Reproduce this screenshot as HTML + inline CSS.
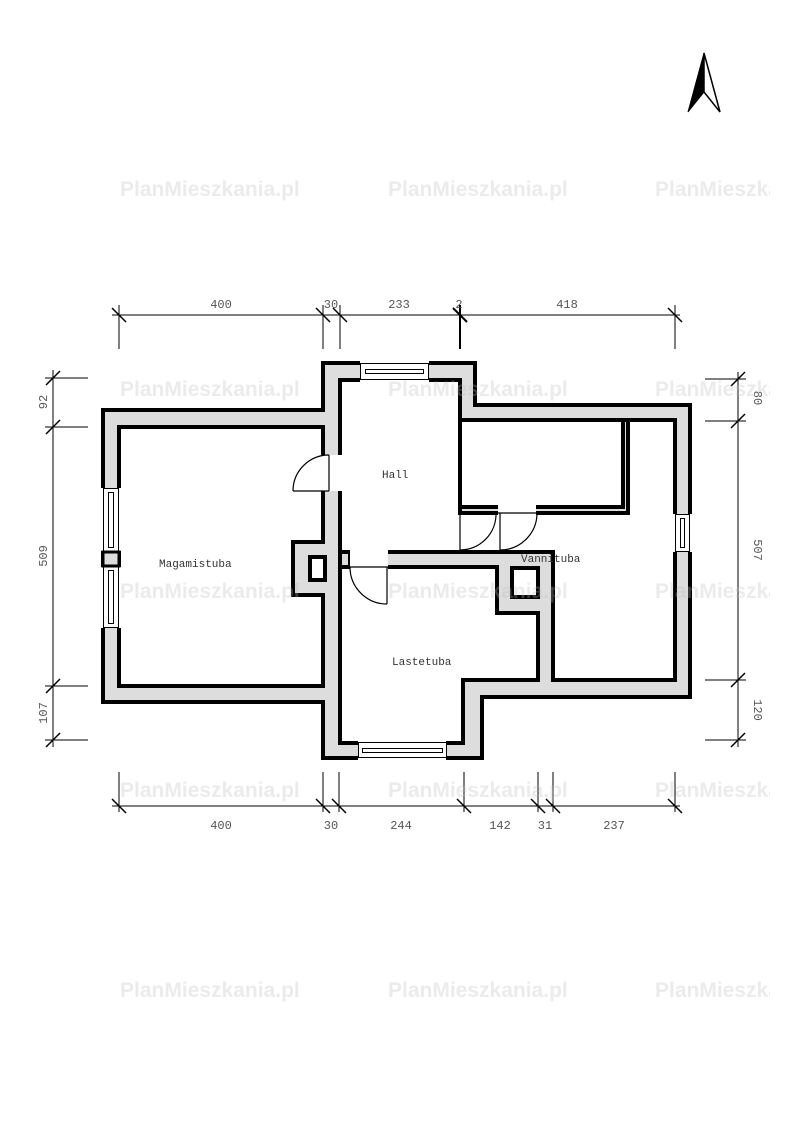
<!DOCTYPE html>
<html><head><meta charset="utf-8"><style>
body{margin:0;background:#fff}
svg{display:block}
.wm{font-family:"Liberation Sans",sans-serif;font-weight:bold;font-size:21px;fill:rgba(190,190,190,0.3)}
.dm{font-family:"Liberation Mono",monospace;font-size:12px;fill:#555}
.rm{font-family:"Liberation Mono",monospace;font-size:11px;fill:#333}
</style></head><body>
<svg width="794" height="1123" viewBox="0 0 794 1123" xmlns="http://www.w3.org/2000/svg">
<defs><clipPath id="c"><rect x="0" y="0" width="770" height="1123"/></clipPath></defs>
<!-- north arrow -->
<polygon points="704,53 688,112 704,92" fill="#000" stroke="#000" stroke-width="1"/>
<polygon points="704,53 720,112 704,92" fill="#fff" stroke="#000" stroke-width="1.5"/>
<!-- walls -->
<g stroke="#000" stroke-width="4" stroke-linejoin="miter">
<polygon fill="#ddd" points="103,410 323,410 323,363 475,363 475,405 690,405 690,697 482,697 482,758 323,758 323,702 103,702"/>
<polygon fill="#fff" points="119,427 323,427 323,542 293,542 293,595 323,595 323,686 119,686"/>
<polygon fill="#fff" points="340,380 460,380 460,420 675,420 675,680 553,680 553,552 340,552"/>
<polygon fill="#fff" points="340,567 497,567 497,613 538,613 538,680 463,680 463,743 340,743"/>
<rect x="460" y="420" width="168" height="93" fill="#ddd"/>
<rect x="460" y="420" width="163" height="87" fill="#fff"/>
<rect x="310" y="557" width="15" height="23" fill="#fff"/>
<rect x="512" y="568" width="26" height="29" fill="#fff"/>
<rect x="340" y="552" width="10" height="15" fill="#ddd"/>
</g>
<g fill="#fff" stroke="none">
<rect x="320" y="455" width="23" height="36"/>
<rect x="350" y="549" width="38" height="21"/>
<rect x="498" y="503" width="38" height="13"/>
<rect x="458" y="515" width="4" height="35"/>
<rect x="360" y="360" width="69" height="23"/>
<rect x="100" y="488" width="23" height="63"/>
<rect x="100" y="567" width="23" height="61"/>
<rect x="672" y="514" width="21" height="38"/>
<rect x="358" y="740" width="88" height="21"/>
</g>
<rect x="103" y="552" width="16" height="14" fill="#ddd" stroke="#000" stroke-width="3"/>
<g fill="none" stroke="#000" stroke-width="1">
<rect x="360.5" y="363.5" width="68" height="16"/><rect x="365.5" y="369.5" width="58" height="4"/>
<rect x="103.5" y="488.5" width="15" height="63"/><rect x="108.5" y="492.5" width="5" height="55"/>
<rect x="103.5" y="566.5" width="15" height="61"/><rect x="108.5" y="570.5" width="5" height="53"/>
<rect x="675.5" y="514.5" width="14" height="37"/><rect x="680.5" y="518.5" width="4" height="29"/>
<rect x="358.5" y="742.5" width="88" height="15"/><rect x="362.5" y="748.5" width="80" height="4"/>
</g>
<g fill="none" stroke="#000" stroke-width="1.2">
<line x1="329" y1="455" x2="329" y2="491"/><path d="M329,455 A36,36 0 0 0 293,491"/><line x1="293" y1="491" x2="329" y2="491"/>
<line x1="387" y1="567" x2="387" y2="604"/><path d="M350,567 A37,37 0 0 0 387,604"/><line x1="350" y1="567" x2="388" y2="567"/>
<line x1="460" y1="513" x2="460" y2="550"/><path d="M496,513 A36,36 0 0 1 460,550"/>
<line x1="500" y1="513" x2="500" y2="550"/><path d="M537,513 A37,37 0 0 1 500,550"/><line x1="498" y1="513" x2="537" y2="513"/>
</g>
<text class="rm" x="159" y="567">Magamistuba</text>
<text class="rm" x="382" y="478">Hall</text>
<text class="rm" x="521" y="562">Vannituba</text>
<text class="rm" x="392" y="665">Lastetuba</text>
<g stroke="#000" stroke-width="1" fill="none">
<line x1="112" y1="315" x2="680" y2="315"/>
<line x1="119" y1="305" x2="119" y2="349"/><line x1="323" y1="305" x2="323" y2="349"/><line x1="340" y1="305" x2="340" y2="349"/><line x1="460" y1="305" x2="460" y2="349" stroke-width="2"/><line x1="675" y1="305" x2="675" y2="349"/>
<line x1="112" y1="308" x2="126" y2="322" stroke-width="1.5"/><line x1="316" y1="308" x2="330" y2="322" stroke-width="1.5"/><line x1="333" y1="308" x2="347" y2="322" stroke-width="1.5"/><line x1="453" y1="308" x2="467" y2="322" stroke-width="2"/><line x1="668" y1="308" x2="682" y2="322" stroke-width="1.5"/>
<line x1="112" y1="806" x2="680" y2="806"/>
<line x1="119" y1="772" x2="119" y2="812"/><line x1="323" y1="772" x2="323" y2="812"/><line x1="339" y1="772" x2="339" y2="812"/><line x1="464" y1="772" x2="464" y2="812"/><line x1="538" y1="772" x2="538" y2="812"/><line x1="553" y1="772" x2="553" y2="812"/><line x1="675" y1="772" x2="675" y2="812"/>
<line x1="112" y1="799" x2="126" y2="813" stroke-width="1.5"/><line x1="316" y1="799" x2="330" y2="813" stroke-width="1.5"/><line x1="332" y1="799" x2="346" y2="813" stroke-width="1.5"/><line x1="457" y1="799" x2="471" y2="813" stroke-width="1.5"/><line x1="531" y1="799" x2="545" y2="813" stroke-width="1.5"/><line x1="546" y1="799" x2="560" y2="813" stroke-width="1.5"/><line x1="668" y1="799" x2="682" y2="813" stroke-width="1.5"/>
<line x1="53" y1="370" x2="53" y2="747"/>
<line x1="45" y1="378" x2="88" y2="378"/><line x1="45" y1="427" x2="88" y2="427"/><line x1="45" y1="686" x2="88" y2="686"/><line x1="45" y1="740" x2="88" y2="740"/>
<line x1="46" y1="385" x2="60" y2="371" stroke-width="1.5"/><line x1="46" y1="434" x2="60" y2="420" stroke-width="1.5"/><line x1="46" y1="693" x2="60" y2="679" stroke-width="1.5"/><line x1="46" y1="747" x2="60" y2="733" stroke-width="1.5"/>
<line x1="738" y1="372" x2="738" y2="747"/>
<line x1="705" y1="379" x2="746" y2="379"/><line x1="705" y1="421" x2="746" y2="421"/><line x1="705" y1="680" x2="746" y2="680"/><line x1="705" y1="740" x2="746" y2="740"/>
<line x1="731" y1="386" x2="745" y2="372" stroke-width="1.5"/><line x1="731" y1="428" x2="745" y2="414" stroke-width="1.5"/><line x1="731" y1="687" x2="745" y2="673" stroke-width="1.5"/><line x1="731" y1="747" x2="745" y2="733" stroke-width="1.5"/>
</g>
<g class="dm" text-anchor="middle">
<text x="221" y="308">400</text><text x="331" y="308">30</text><text x="399" y="308">233</text><text x="459" y="308">2</text><text x="567" y="308">418</text>
<text x="221" y="829">400</text><text x="331" y="829">30</text><text x="401" y="829">244</text><text x="500" y="829">142</text><text x="545" y="829">31</text><text x="614" y="829">237</text>
<text transform="translate(47,402) rotate(-90)">92</text>
<text transform="translate(47,556) rotate(-90)">509</text>
<text transform="translate(47,713) rotate(-90)">107</text>
<text transform="translate(754,398) rotate(90)">80</text>
<text transform="translate(754,550) rotate(90)">507</text>
<text transform="translate(754,710) rotate(90)">120</text>
</g>
<g class="wm" clip-path="url(#c)">
<text x="120" y="196">PlanMieszkania.pl</text><text x="388" y="196">PlanMieszkania.pl</text><text x="655" y="196">PlanMieszkania.pl</text>
<text x="120" y="396">PlanMieszkania.pl</text><text x="388" y="396">PlanMieszkania.pl</text><text x="655" y="396">PlanMieszkania.pl</text>
<text x="120" y="598">PlanMieszkania.pl</text><text x="388" y="598">PlanMieszkania.pl</text><text x="655" y="598">PlanMieszkania.pl</text>
<text x="120" y="797">PlanMieszkania.pl</text><text x="388" y="797">PlanMieszkania.pl</text><text x="655" y="797">PlanMieszkania.pl</text>
<text x="120" y="997">PlanMieszkania.pl</text><text x="388" y="997">PlanMieszkania.pl</text><text x="655" y="997">PlanMieszkania.pl</text>
</g>
</svg>
</body></html>
